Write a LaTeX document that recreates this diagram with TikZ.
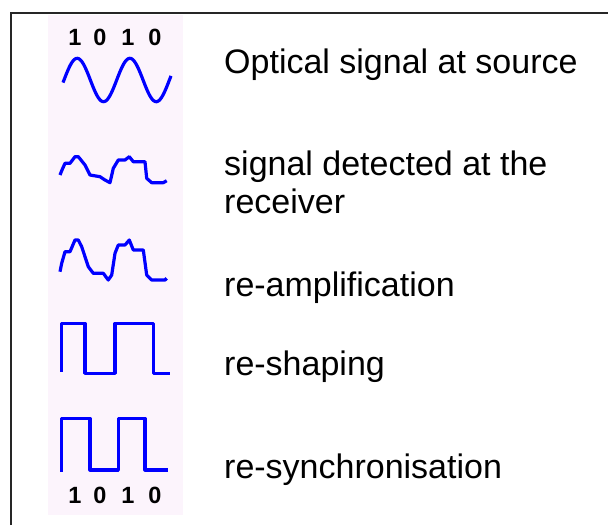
\documentclass[tikz,border=0pt]{standalone}
\usepackage{fontspec}
\setmainfont{Liberation Sans}
\usetikzlibrary{positioning}
\definecolor{panelpink}{RGB}{252,244,252}

\begin{document}
\begin{tikzpicture}[
  x=1pt, y=-1pt,
  wave/.style  = {draw=blue, line width=3.2pt, line join=round},
  bit/.style   = {inner sep=0pt, font=\fontsize{23.5}{26}\selectfont\bfseries},
  label/.style = {anchor=base west, inner sep=0pt, align=left,
                  font=\fontsize{34}{38}\selectfont},
]
  \useasboundingbox (0,0) rectangle (608,525);
%--- frame and panel ---
  \fill[panelpink] (48,15) rectangle (183,515);
  \draw[line width=2pt, black!85] (11,525) -- (11,13) -- (608,13);

%--- bits above and below ---
  \foreach \d/\x [count=\i] in {1/75, 0/100, 1/128, 0/155} {
    \node[bit] (tbit\i) at (\x,37.5) {\d};
    \node[bit] (bbit\i) at (\x,495)  {\d};
  }

%--- waveforms ---
  % source: clean sine
  \draw[wave] plot[domain=63:171, samples=90]
    (\x, {80 - 21.7*sin(6.831*(\x-64))});
  % detected: weak and noisy
  \draw[wave] (60,175) -- (62,170) -- (65,163.3) -- (70,163.3) -- (75,156.7)
    -- (78.3,156.7) -- (85,165) -- (90,175) -- (100,176.7) -- (105,180)
    -- (110,182.7) -- (113.3,168.3) -- (118.3,160) -- (125,160)
    -- (129.3,156.7) -- (133.3,161.7) -- (145,161.7) -- (146.7,178.3)
    -- (151.7,182.7) -- (163.3,182.7) -- (166.7,180.7);
  % re-amplified
  \draw[wave] (60,271.7) -- (61.7,263.3) -- (65,251.7) -- (70,251.7)
    -- (75,240) -- (78.3,240) -- (81.7,246.7) -- (88.3,266.7)
    -- (93.3,273.3) -- (103.3,273.3) -- (108.3,280) -- (111.7,275)
    -- (115,253.3) -- (118.3,245) -- (125,245) -- (129.3,240)
    -- (133.3,250) -- (143.3,250) -- (146.7,275) -- (151.7,280)
    -- (165,280) -- (166.7,278.3);
  % re-shaped
  \draw[wave] (61.7,371.7) -- (61.7,323.3) -- (85,323.3) -- (85,373.3)
    -- (115,373.3) -- (115,323.3) -- (153.3,323.3) -- (153.3,373.3)
    -- (170,373.3);
  % re-synchronised
  \draw[wave] (61.7,471.7) -- (61.7,418.3) -- (90,418.3) -- (90,470)
    -- (118.3,470) -- (118.3,418.3) -- (145,418.3) -- (145,470)
    -- (168.3,470);

%--- labels ---
  \node[label] (lsrc)  at (224,73.3)  {Optical signal at source};
  \node[label] (ldet)  at (224,213.3) {signal detected at the\\receiver};
  \node[label] (lamp)  at (224,296)   {re-amplification};
  \node[label] (lshp)  at (224,375)   {re-shaping};
  \node[label] (lsyn)  at (224,478)   {re-synchronisation};
\end{tikzpicture}
\end{document}
